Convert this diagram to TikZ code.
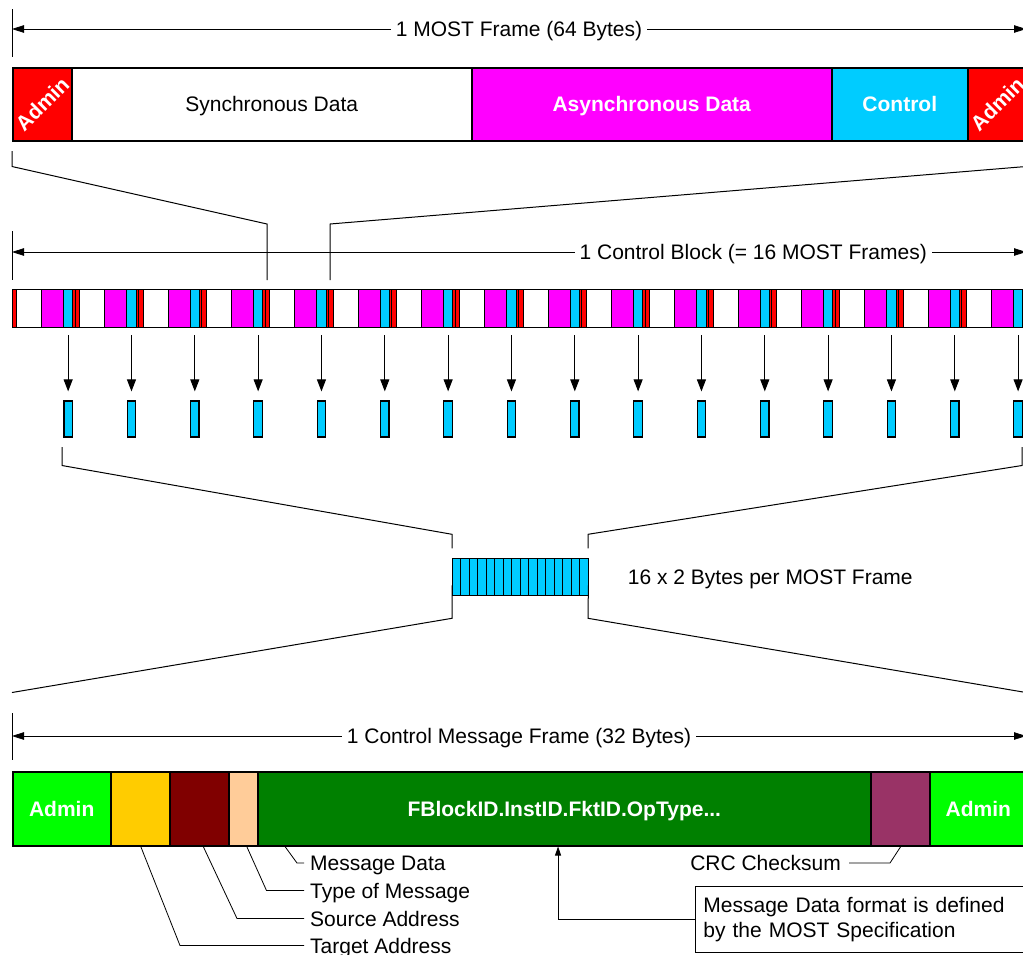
\documentclass[tikz,border=0pt]{standalone}
\usepackage{fontspec}
\setmainfont{Liberation Sans}
\usetikzlibrary{arrows.meta,positioning}

\begin{document}
\begin{tikzpicture}[x=1pt, y=-1pt, font=\fontsize{21}{25}\selectfont,
    field/.style={draw=black, line width=1.5pt, inner sep=0pt, anchor=north west, minimum height=73pt, text depth=0pt},
    cell/.style={draw=black, line width=1pt},
    dimline/.style={line width=0.8pt, {Triangle[length=12pt,width=7.5pt]}-{Triangle[length=12pt,width=7.5pt]}},
    dimtick/.style={line width=1pt},
    dimlabel/.style={fill=white, inner xsep=5pt, inner ysep=2pt, text depth=0pt},
    zoomline/.style={line width=1pt},
    downarrow/.style={line width=1pt, -{Triangle[length=12pt,width=9pt]}},
    boldlabel/.style={text=white, font=\fontsize{21}{25}\selectfont\bfseries},
    calllabel/.style={inner xsep=6pt, inner ysep=0pt, text depth=0pt},
    callline/.style={line width=0.8pt}]
    \def\xR{1026}
    \def\period{63.33}

    \definecolor{adminRed}{HTML}{FF0000}
    \definecolor{asyncMagenta}{HTML}{FF00FF}
    \definecolor{ctrlCyan}{HTML}{00CCFF}
    \definecolor{adminGreen}{HTML}{00FF00}
    \definecolor{targetYellow}{HTML}{FFCC00}
    \definecolor{sourceRed}{HTML}{800000}
    \definecolor{typePeach}{HTML}{FFCC99}
    \definecolor{dataGreen}{HTML}{008000}
    \definecolor{crcPurple}{HTML}{993366}

    % Canvas
    \useasboundingbox (0,0) rectangle (1023,954);
    \clip (0,0) rectangle (1023,954);

    % MOST frame
    \draw[dimtick] (12,9) -- (12,57);
    \draw[dimtick] (\xR,9) -- (\xR,57);
    \draw[dimline] (12,29) -- node[dimlabel] (mostDim) {1 MOST Frame (64 Bytes)} (\xR,29);

    \node[field, fill=adminRed, minimum width=59pt] (adminA) at (12,67) {};
    \node[field, fill=white, minimum width=400pt] (sync) at (71,67) {Synchronous Data};
    \node[field, fill=asyncMagenta, minimum width=360pt, boldlabel] (async) at (471,67) {Asynchronous Data};
    \node[field, fill=ctrlCyan, minimum width=136pt, boldlabel] (ctrl) at (831,67) {Control};
    \node[field, fill=adminRed, minimum width=59pt] (adminB) at (967,67) {};
    \node[boldlabel, rotate=45] (adminAText) at (adminA.center) {Admin};
    \node[boldlabel, rotate=45] (adminBText) at (adminB.center) {Admin};

    % Zoom onto one frame of the control block
    \coordinate (blockL) at (267,280);
    \coordinate (blockR) at (330,280);
    \draw[zoomline] ([yshift=-9.5pt]adminA.south west) -- (12,166.5) -- (267,224) -- (blockL);
    \draw[zoomline] (\xR,150) -- (\xR,166.5) -- (330,224) -- (blockR);

    % Control block
    \draw[dimtick] (12,231) -- (12,280);
    \draw[dimtick] (\xR,231) -- (\xR,280);
    \draw[dimline] (12,252) -- node[dimlabel, pos=0.731] (blockDim) {1 Control Block (= 16 MOST Frames)} (\xR,252);

    \foreach \k in {0,...,15} {
        \pgfmathsetmacro{\x}{12+\k*\period}
        \filldraw[cell, fill=adminRed] (\x,289.5) rectangle ++(4.5,37.5);
        \filldraw[cell, fill=white] (\x+4.5,289.5) rectangle ++(25,37.5);
        \filldraw[cell, fill=asyncMagenta] (\x+29.5,289.5) rectangle ++(22,37.5);
        \filldraw[cell, fill=ctrlCyan] (\x+51.5,289.5) rectangle ++(9.3,37.5);
        \filldraw[cell, fill=adminRed] (\x+60.8,289.5) rectangle ++(2.53,37.5);
    }

    % Control bytes picked out of each frame
    \foreach \k in {1,...,16} {
        \pgfmathsetmacro{\cx}{12+(\k-1)*\period+56.15}
        \coordinate (tap\k) at (\cx,335);
        \node[draw=black, line width=1.2pt, fill=ctrlCyan, inner sep=0pt,
              minimum width=8.5pt, minimum height=36pt] (cb\k) at (\cx,419) {};
        \draw[downarrow] (tap\k) -- ([yshift=9pt]cb\k.north);
    }

    \draw[zoomline] (62,447) -- (62,465.5) -- (452,534.3) -- (452,548.3);
    \draw[zoomline] (1022,447) -- (1022,465.5) -- (588,534.3) -- (588,548.3);

    % 16 x 2 bytes
    \foreach \i in {0,...,15}
        \filldraw[cell, fill=ctrlCyan] (452+\i*8.5,558) rectangle ++(8.5,37);
    \node[minimum width=136pt, minimum height=37pt, anchor=north west, inner sep=0pt] (bytes) at (452,558) {};
    \node[right=36pt of bytes, text depth=0pt] (bytesText) {16 x 2 Bytes per MOST Frame};

    \draw[zoomline] (bytes.south west) ++(0,-10) -- (452,618.3) -- (12,692.5);
    \draw[zoomline] (bytes.south east) ++(0,-10) -- (588,618.3) -- (\xR,692.5);

    % Control message frame
    \draw[dimtick] (12,713) -- (12,760);
    \draw[dimtick] (\xR,713) -- (\xR,760);
    \draw[dimline] (12,736) -- node[dimlabel] (msgDim) {1 Control Message Frame (32 Bytes)} (\xR,736);

    \node[field, fill=adminGreen, minimum width=98pt, minimum height=74pt, boldlabel] (adminC) at (12,771) {Admin};
    \node[field, fill=targetYellow, minimum width=59pt, minimum height=74pt] (target) at (110,771) {};
    \node[field, fill=sourceRed, minimum width=59pt, minimum height=74pt] (source) at (169,771) {};
    \node[field, fill=typePeach, minimum width=29pt, minimum height=74pt] (msgtype) at (228,771) {};
    \node[field, fill=dataGreen, minimum width=613pt, minimum height=74pt, boldlabel] (msgdata) at (257,771) {FBlockID.InstID.FktID.OpType...};
    \node[field, fill=crcPurple, minimum width=59pt, minimum height=74pt] (crc) at (870,771) {};
    \node[field, fill=adminGreen, minimum width=97pt, minimum height=74pt, boldlabel] (adminD) at (929,771) {Admin};

    % Callouts
    \node[calllabel, anchor=west] (lblData) at (304,863) {Message Data};
    \node[calllabel, anchor=west] (lblType) at (304,890.5) {Type of Message};
    \node[calllabel, anchor=west] (lblSource) at (304,918.5) {Source Address};
    \node[calllabel, anchor=west] (lblTarget) at (304,945.5) {Target Address};
    \draw[callline] ([xshift=28pt]msgdata.south west) -- (297,863) -- (lblData.west);
    \draw[callline] ([xshift=3.5pt]msgtype.south) -- (266.5,890.5) -- (lblType.west);
    \draw[callline] ([xshift=4pt]source.south) -- (237,918.5) -- (lblSource.west);
    \draw[callline] ([xshift=0.5pt]target.south) -- (180,945.5) -- (lblTarget.west);

    \node[calllabel, inner xsep=8pt, anchor=east] (lblCrc) at (849,863) {CRC Checksum};
    \draw[callline] (lblCrc.east) -- (890,863) -- ([xshift=0.5pt]crc.south);

    \node[draw=black, line width=0.8pt, anchor=north west, text width=319pt, inner xsep=8pt,
          minimum height=66pt, align=left] (note) at (695,886)
          {Message Data format is defined\\by the MOST Specification};
    \draw[callline, -{Triangle[length=9pt,width=6pt]}] (note.west) -| ([xshift=-6.2pt]msgdata.south);

\end{tikzpicture}
\end{document}
